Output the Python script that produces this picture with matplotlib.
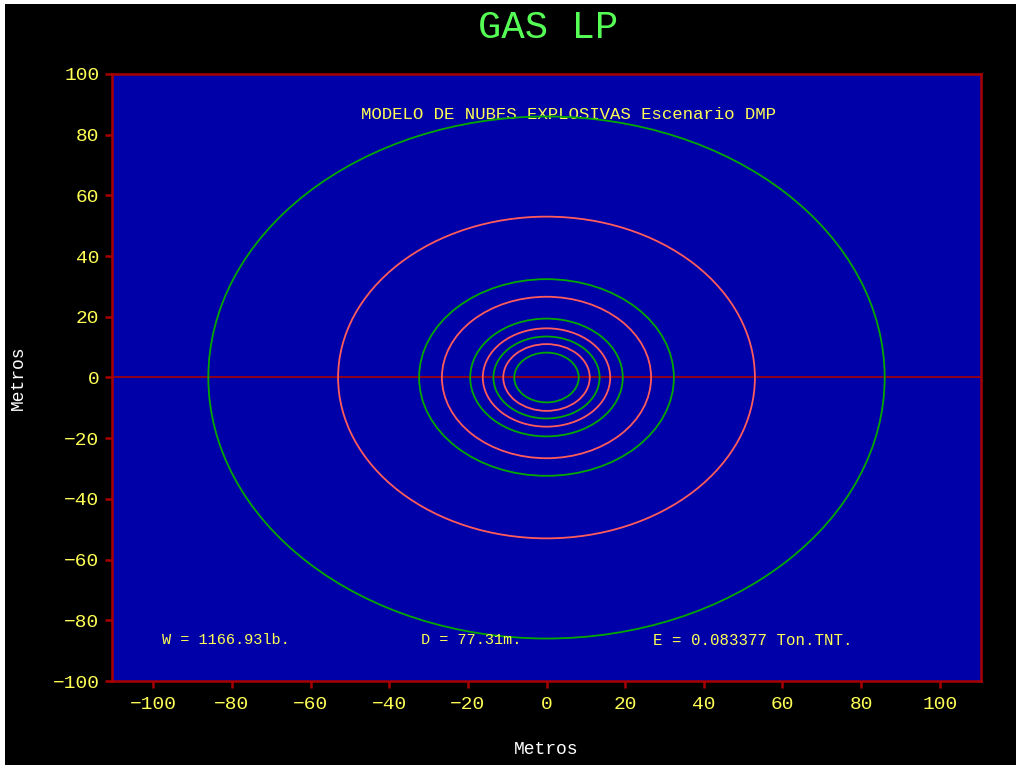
import matplotlib
matplotlib.use("Agg")
import matplotlib.pyplot as plt
from matplotlib.patches import Circle, Rectangle

# radios de los circulos (metros)
green_radii = [86.0, 32.4, 19.4, 13.5, 8.2]
pink_radii = [53.0, 26.6, 16.2, 11.0]
ticks = [-100, -80, -60, -40, -20, 0, 20, 40, 60, 80, 100]

title = "GAS LP"
subtitle = "MODELO DE NUBES EXPLOSIVAS Escenario DMP"
info_w = "W = 1166.93lb."
info_d = "D = 77.31m."
info_e = "E = 0.083377 Ton.TNT."

BLUE = "#0000a8"
GREEN = "#00a800"
PINK = "#ff5c5c"
RED = "#a80000"
YELLOW = "#ffff55"
LGREEN = "#55ff55"
MONO = "Liberation Mono"

fig = plt.figure(figsize=(10.16, 7.65), dpi=100, facecolor="white")
# fondo negro con borde blanco arriba e izquierda
fig.patches.append(Rectangle((5 / 1016, 0), 1, 1 - 4 / 765, transform=fig.transFigure,
                             facecolor="black", edgecolor="none", zorder=-10))

ax = fig.add_axes([112 / 1016, 1 - 681 / 765, 869 / 1016, 607 / 765])
ax.set_facecolor(BLUE)
ax.set_xlim(-110.5, 110.5)
ax.set_ylim(-100, 100)

ax.axhline(0, color=RED, lw=1.2, zorder=1)
for r in green_radii:
    ax.add_patch(Circle((0, 0), r, fill=False, edgecolor=GREEN, lw=1.3, zorder=2))
for r in pink_radii:
    ax.add_patch(Circle((0, 0), r, fill=False, edgecolor=PINK, lw=1.3, zorder=2))

for s in ax.spines.values():
    s.set_color(RED)
    s.set_linewidth(1.8)

ax.set_xticks(ticks)
ax.set_yticks(ticks)
ax.tick_params(direction="out", length=5, width=1.8, color=RED, labelcolor=YELLOW,
               labelsize=14, pad=4)
ax.tick_params(axis="x", pad=6)
for lbl in ax.get_xticklabels() + ax.get_yticklabels():
    lbl.set_family(MONO)

ax.set_xlabel("Metros", color="white", fontsize=13, family=MONO)
ax.set_ylabel("Metros", color="white", fontsize=13, family=MONO)
ax.xaxis.set_label_coords(0.5, (681 - 750) / 607)
ax.yaxis.set_label_coords((18 - 112) / 869, 0.5)
ax.xaxis.label.set_va("center")
ax.yaxis.label.set_va("center")

fig.text(548 / 1016, 1 - 28 / 765, title, color=LGREEN, fontsize=28, family=MONO,
         ha="center", va="center")

ax.text(5.6, 86.5, subtitle, color=YELLOW, fontsize=12.5, family=MONO,
        ha="center", va="center", zorder=1)
ax.text(-97.7, -86.5, info_w, color=YELLOW, fontsize=11, family=MONO, ha="left", va="center")
ax.text(-32.0, -86.5, info_d, color=YELLOW, fontsize=11, family=MONO, ha="left", va="center")
ax.text(27.2, -86.5, info_e, color=YELLOW, fontsize=11.3, family=MONO, ha="left", va="center")

fig.savefig("out.png", dpi=100, facecolor=fig.get_facecolor())
